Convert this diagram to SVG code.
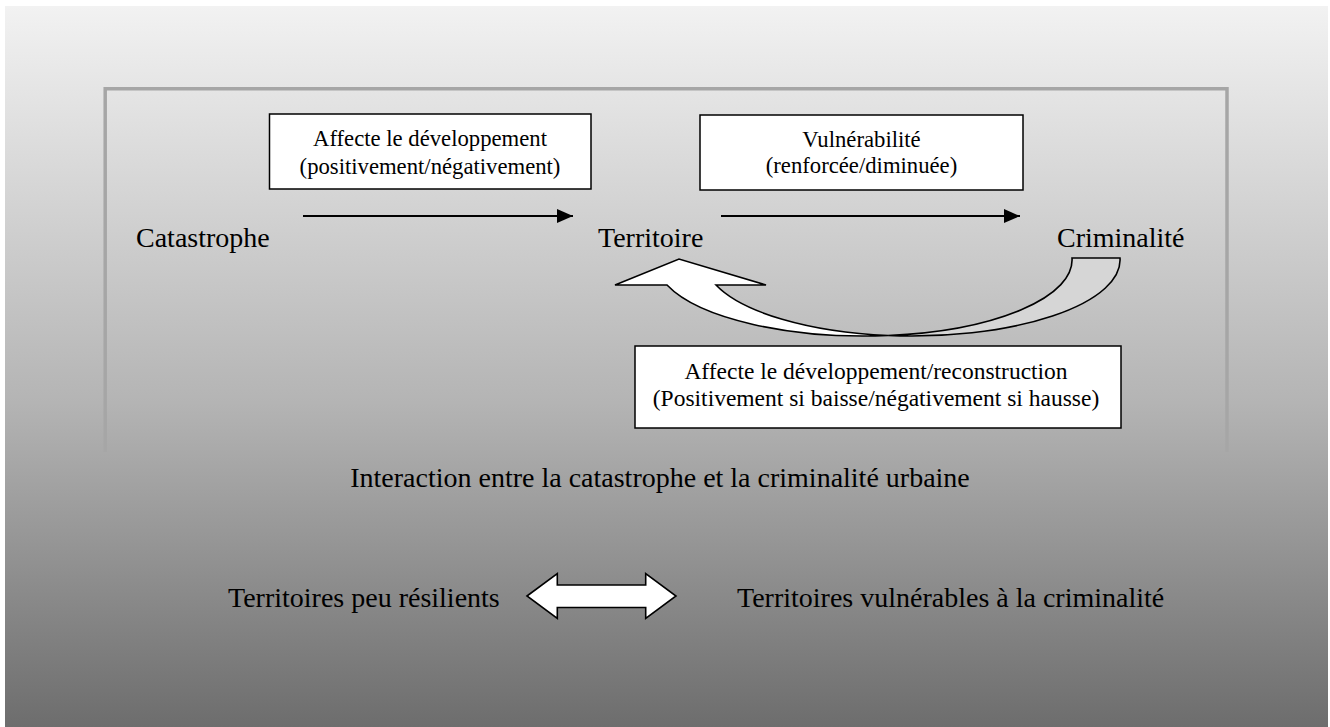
<svg xmlns="http://www.w3.org/2000/svg" width="1330" height="727" viewBox="0 0 1330 727">
  <defs>
    <linearGradient id="bg" x1="0" y1="6" x2="0" y2="727" gradientUnits="userSpaceOnUse">
      <stop offset="0" stop-color="#f2f2f2"/>
      <stop offset="0.55" stop-color="#b4b4b4"/>
      <stop offset="1" stop-color="#6d6d6d"/>
    </linearGradient>
    <marker id="ah" markerUnits="userSpaceOnUse" markerWidth="16" markerHeight="14" refX="16" refY="7" orient="auto">
      <path d="M0,0 L16,7 L0,14 Z" fill="#000"/>
    </marker>
    <style>
      .lbl { font-family: "Liberation Serif", "Times New Roman", serif; font-size: 28px; fill: #000; }
      .box { fill: #fff; stroke: #000; stroke-width: 1.5; }
      .bt { font-family: "Liberation Serif", "Times New Roman", serif; font-size: 22.7px; fill: #000; text-anchor: middle; }
      .bt3 { font-size: 23.5px; }
      .conn { stroke: #000; stroke-width: 1.8; fill: none; }
      .block { stroke: #000; stroke-width: 1.6; stroke-linejoin: miter; }
    </style>
  </defs>

  <rect x="5" y="6" width="1323" height="721" fill="url(#bg)"/>
  <path d="M105.2,452 V88.8 H1227 V452" fill="none" stroke="#a6a6a6" stroke-width="3.5"/>

  <g id="connectors">
    <line class="conn" x1="303" y1="216" x2="573" y2="216" marker-end="url(#ah)"/>
    <line class="conn" x1="721" y1="216" x2="1020" y2="216" marker-end="url(#ah)"/>
    <g id="curved-arrow">
      <path class="block" fill="#d6d6d6" d="M888.1,335.5 A208.4,76 0 0 0 1072,258 L1120,258 A208.4,76 0 0 1 888.1,335.5 Z"/>
      <path class="block" fill="#fff" d="M667,285 A208.4,76 0 0 0 888.1,335.5 A208.4,76 0 0 1 716,285 L766,285 L679,259 L615,285 Z"/>
    </g>
    <polygon id="double-arrow" class="block" fill="#fff" stroke-width="2" points="527,596 557.3,573.5 557.3,585 645.7,585 645.7,573.5 676,596 645.7,618.5 645.7,607.5 557.3,607.5 557.3,618.5"/>
  </g>

  <g id="box1">
    <rect class="box" x="269.5" y="114" width="321.5" height="75"/>
    <text class="bt" x="430" y="146">Affecte le développement</text>
    <text class="bt" x="430" y="174">(positivement/négativement)</text>
  </g>
  <g id="box2">
    <rect class="box" x="700" y="115" width="323" height="75"/>
    <text class="bt" x="861.5" y="147">Vulnérabilité</text>
    <text class="bt" x="861.5" y="173">(renforcée/diminuée)</text>
  </g>
  <g id="box3">
    <rect class="box" x="635" y="346" width="486" height="82"/>
    <text class="bt bt3" x="876" y="379">Affecte le développement/reconstruction</text>
    <text class="bt bt3" x="876" y="406">(Positivement si baisse/négativement si hausse)</text>
  </g>

  <g id="catastrophe"><text class="lbl" x="136" y="247">Catastrophe</text></g>
  <g id="territoire"><text class="lbl" x="598" y="247">Territoire</text></g>
  <g id="criminalite"><text class="lbl" x="1057" y="247">Criminalité</text></g>

  <g id="caption"><text class="lbl" x="660" y="487" text-anchor="middle">Interaction entre la catastrophe et la criminalité urbaine</text></g>

  <g id="territoires-peu"><text class="lbl" x="228" y="607">Territoires peu résilients</text></g>
  <g id="territoires-vuln"><text class="lbl" x="737" y="607">Territoires vulnérables à la criminalité</text></g>
</svg>
